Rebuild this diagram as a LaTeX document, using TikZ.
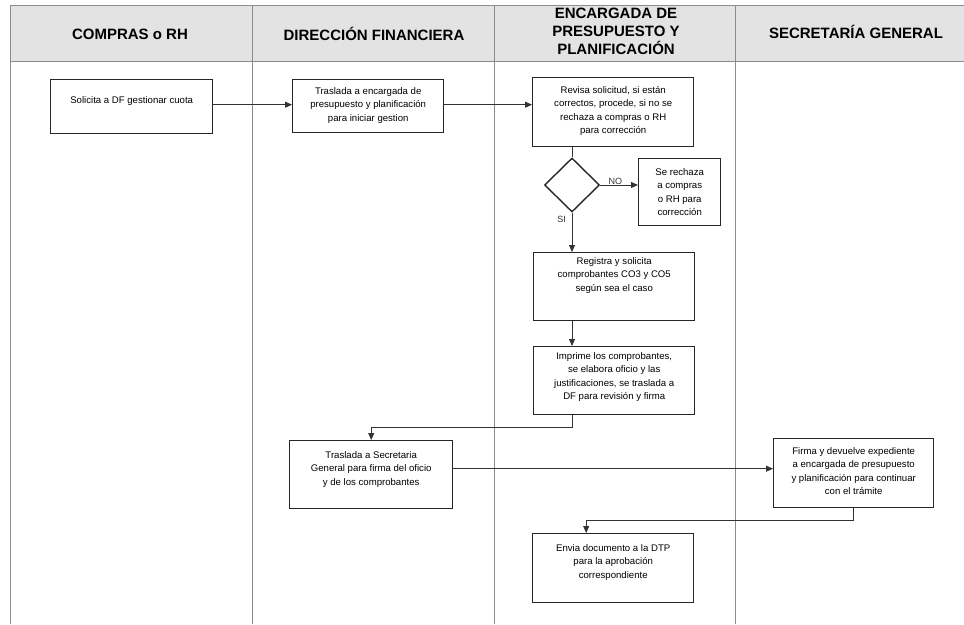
\documentclass[tikz,border=0pt]{standalone}
\usepackage{fontspec}
\setmainfont{Liberation Sans}
\usetikzlibrary{arrows.meta,shapes.geometric}
\newcommand{\boxtext}[4]{\parbox[c][#2pt][t]{#1pt}{\centering\fontsize{9.6}{13.5}\selectfont\vspace*{#3pt}\rule{0pt}{7.5pt}#4\par}}
\tikzset{
  procbox/.style={draw=black!85, line width=1.4pt, inner sep=0pt, anchor=north west, fill=white},
  lane/.style={draw=black!45, line width=0.8pt},
  arr/.style={-{Triangle[length=7pt,width=6pt]}, line width=0.8pt, draw=black!80},
  conn/.style={line width=0.8pt, draw=black!80},
  head/.style={font=\fontsize{15}{18}\selectfont\bfseries, align=center, inner sep=0pt},
  lbl/.style={font=\fontsize{9}{11}\selectfont, inner sep=1pt, text=black!80}
}
\begin{document}
\begin{tikzpicture}[x=1pt,y=-1pt]
\useasboundingbox (0,0) rectangle (964,624);
% header band
\fill[black!11] (10,5) rectangle (964,61);
\draw[lane] (10,5) -- (964,5);
\draw[lane] (10,61) -- (964,61);
% lane lines
\draw[lane] (10,5) -- (10,624);
\draw[lane] (252,5) -- (252,624);
\draw[lane] (494,5) -- (494,624);
\draw[lane] (735,5) -- (735,624);
% headers
\node[head] (h1) at (130,34) {COMPRAS o RH};
\node[head] (h2) at (374,34) {DIRECCIÓN FINANCIERA};
\node[head] (h3) at (616,31) {ENCARGADA DE\\PRESUPUESTO Y\\PLANIFICACIÓN};
\node[head] (h4) at (856,32) {SECRETARÍA GENERAL};
% process boxes
\node[procbox] (b1) at (50,79) {\boxtext{162}{54}{16}{Solicita a DF gestionar cuota}};
\node[procbox] (b2) at (292,79) {\boxtext{151}{53}{7}{Traslada a encargada de\\presupuesto y planificación\\para iniciar gestion}};
\node[procbox] (b3) at (532,77) {\boxtext{161}{69}{8}{Revisa solicitud, si están\\correctos, procede, si no se\\rechaza a compras o RH\\para corrección}};
\node[draw=black!85, line width=1.4pt, diamond, inner sep=0pt, minimum width=55pt, minimum height=54pt] (d) at (572,185) {};
\node[procbox] (b4) at (638,158) {\boxtext{82}{67}{9}{Se rechaza\\a compras\\o RH para\\corrección}};
\node[procbox] (b6) at (533,252) {\boxtext{161}{68}{4}{Registra y solicita\\comprobantes CO3 y CO5\\según sea el caso}};
\node[procbox] (b7) at (533,346) {\boxtext{161}{68}{5}{Imprime los comprobantes,\\se elabora oficio y las\\justificaciones, se traslada a\\DF para revisión y firma}};
\node[procbox] (b8) at (289,440) {\boxtext{163}{68}{10}{Traslada a Secretaria\\General para firma del oficio\\y de los comprobantes}};
\node[procbox] (b9) at (773,438) {\boxtext{160}{69}{8}{Firma y devuelve expediente\\a encargada de presupuesto\\y planificación para continuar\\con el trámite}};
\node[procbox] (b10) at (532,533) {\boxtext{161}{69}{10}{Envia documento a la DTP\\para la aprobación\\correspondiente}};
% connectors
\draw[arr] ([yshift=2pt]b1.east) -- ([yshift=2pt]b1.east -| b2.west);
\draw[arr] ([yshift=1.5pt]b2.east) -- ([yshift=1.5pt]b2.east -| b3.west);
\draw[conn] (b3.south -| d.north) -- (d.north);
\draw[arr] (d.east) -- (d.east -| b4.west) node[lbl, pos=0.4, above=-1pt] (no) {NO};
\draw[arr] (d.south) -- (d.south |- b6.north);
\node[lbl, left=5pt] (si) at ([yshift=-7pt]d.south) {SI};
\draw[arr] (b6.south -| d.south) -- (b7.north -| d.south);
\draw[arr] (b7.south -| d.south) -- ++(0,12) -| (b8.north);
\draw[arr] ([yshift=6pt]b8.east) -- ([yshift=6pt]b8.east -| b9.west);
\draw[arr] (b9.south) -- ++(0,12) -| ([xshift=-27pt]b10.north);
\end{tikzpicture}
\end{document}
